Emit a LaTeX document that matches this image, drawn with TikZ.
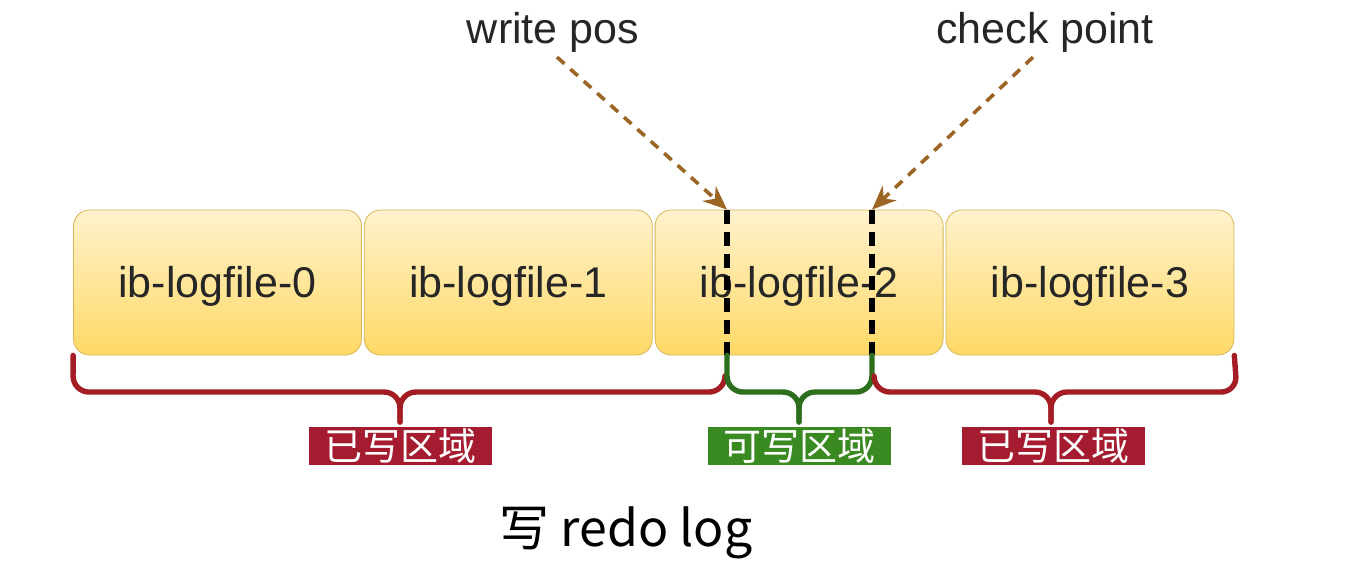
\documentclass[tikz,border=0pt]{standalone}
\usepackage{fontspec}
\setmainfont{Liberation Sans}
\newfontfamily\cjk{Noto Sans CJK SC}
\usetikzlibrary{positioning,arrows.meta}
\definecolor{filetop}{HTML}{FFF2CD}
\definecolor{filebot}{HTML}{FFD966}
\definecolor{fileline}{HTML}{D6B656}
\definecolor{usedred}{HTML}{A51D24}
\definecolor{usedlab}{HTML}{A51C30}
\definecolor{freegreen}{HTML}{2D6E1C}
\definecolor{freelab}{HTML}{3A8A22}
\definecolor{pointer}{HTML}{9C6524}
\begin{document}
\begin{tikzpicture}[x=0.5pt,y=-0.5pt,line join=round,line cap=round,>={Stealth[length=12pt,width=10pt]}]
		\tikzset{logfile/.style={draw=fileline,thin,rounded corners=8pt,top color=filetop,bottom color=filebot,
				minimum width=144pt,minimum height=72.5pt,inner sep=0pt,text height=19.7pt,text depth=4.5pt,
				text=black!85,font=\fontsize{21.5}{26}\selectfont},
			region/.style={inner sep=0pt,minimum width=91.5pt,minimum height=19pt,text=white,font=\cjk\fontsize{19}{20}\selectfont},
			brace line/.style={line width=2.7pt,rounded corners=8pt},
			pos line/.style={line width=2.6pt,dash pattern=on 7pt off 4pt,line cap=butt},
			pointer line/.style={->,pointer,line width=1.8pt,dash pattern=on 5pt off 4pt,line cap=butt}}
		\useasboundingbox (0,0) rectangle (1352,570);
		% the four redo log files
		\node[logfile] (f0) at (217.5,282.5) {ib-logfile-0};
		\node[logfile,right=1pt of f0] (f1) {ib-logfile-1};
		\node[logfile,right=1pt of f1] (f2) {ib-logfile-2};
		\node[logfile,right=1pt of f2] (f3) {ib-logfile-3};
		% write pos and check point
		\coordinate (wp x) at (727,0);
		\coordinate (cp x) at (872,0);
		\coordinate (wp top) at (wp x |- f2.north);
		\coordinate (wp bot) at (wp x |- f2.south);
		\coordinate (cp top) at (cp x |- f2.north);
		\coordinate (cp bot) at (cp x |- f2.south);
		\draw[pos line] (wp top) -- (wp bot);
		\draw[pos line] (cp top) -- (cp bot);
		\node[font=\fontsize{21.5}{26}\selectfont,text=black!85] (write) at (553,32) {write pos};
		\node[font=\fontsize{21.5}{26}\selectfont,text=black!85] (check) at (1045,32) {check point};
		\draw[pointer line] ([xshift=2pt,yshift=1pt]write.south) -- (wp top);
		\draw[pointer line] ([xshift=-6pt,yshift=1pt]check.south) -- (cp top);
		% regions
		\draw[brace line,usedred] (f0.south west) -- (73,392) -- (400,392) -- (400,422);
		\draw[brace line,usedred] (725,376) -- (725,392) -- (400,392) -- (400,422);
		\draw[brace line,freegreen] (wp bot) -- (727,392) -- (799,392) -- (799,422);
		\draw[brace line,freegreen] (cp bot) -- (872,392) -- (799,392) -- (799,422);
		\draw[brace line,usedred] (874,376) -- (874,392) -- (1051,392) -- (1051,422);
		\draw[brace line,usedred] (f3.south east) -- (1237,392) -- (1051,392) -- (1051,422);
		\node[region,fill=usedlab] (used1) at (400,446) {已写区域};
		\node[region,fill=freelab] (free) at (799,446) {可写区域};
		\node[region,fill=usedlab] (used2) at (1053,446) {已写区域};
		\node[font=\cjk\fontsize{25}{30}\selectfont] (title) at (626,533) {写 redo log};
		
		\end{tikzpicture}
\end{document}
